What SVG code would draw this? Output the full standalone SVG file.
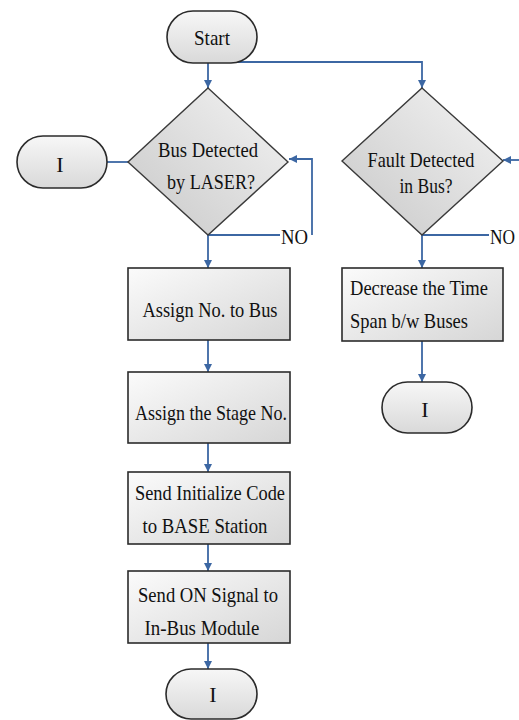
<svg xmlns="http://www.w3.org/2000/svg" width="519" height="720" viewBox="0 0 519 720">
  <defs>
    <linearGradient id="gBox" x1="0" y1="0" x2="1" y2="1">
      <stop offset="0" stop-color="#fbfbfb"/>
      <stop offset="1" stop-color="#d6d6d6"/>
    </linearGradient>
    <linearGradient id="gTerm" x1="0" y1="0" x2="0" y2="1">
      <stop offset="0" stop-color="#f7f7f7"/>
      <stop offset="1" stop-color="#d9d9d9"/>
    </linearGradient>
    <linearGradient id="gDia" x1="1" y1="0" x2="0" y2="1">
      <stop offset="0" stop-color="#f4f4f4"/>
      <stop offset="1" stop-color="#c8c8c8"/>
    </linearGradient>
    <marker id="arrow" viewBox="0 0 10 10" refX="10" refY="5" markerWidth="8" markerHeight="9" markerUnits="userSpaceOnUse" orient="auto">
      <path d="M0,0 L10,5 L0,10 z" fill="#3c67a3"/>
    </marker>
  </defs>
  <style>
    .box { fill: url(#gBox); stroke: #2b2b2b; stroke-width: 1.6; }
    .term { fill: url(#gTerm); stroke: #2b2b2b; stroke-width: 1.6; }
    .dia { fill: url(#gDia); stroke: #3a3a3a; stroke-width: 1.4; }
    .lbl { font-family: "Liberation Serif", "Times New Roman", serif; font-size: 22px; fill: #111; }
    .c { text-anchor: middle; }
    .conn path { fill: none; stroke: #3c67a3; stroke-width: 1.8; }
    .arr { marker-end: url(#arrow); }
  </style>

  <!-- connectors -->
  <g id="connectors" class="conn">
    <path class="arr" d="M208,63 V88"/>
    <path class="arr" d="M208,62 H422 V88"/>
    <path d="M107,162 H128"/>
    <path d="M208,235 H280"/>
    <path class="arr" d="M312,235 V159 H289"/>
    <path class="arr" d="M208,235 V268"/>
    <path class="arr" d="M208,340 V372"/>
    <path class="arr" d="M208,443 V472"/>
    <path class="arr" d="M208,544 V571"/>
    <path class="arr" d="M208,643 V669"/>
    <path d="M422,235 H489"/>
    <path class="arr" d="M519,160 H503"/>
    <path class="arr" d="M422,235 V268"/>
    <path class="arr" d="M422,341 V382"/>
  </g>

  <!-- edge labels -->
  <text class="lbl" x="281" y="244" textLength="27" lengthAdjust="spacingAndGlyphs">NO</text>
  <text class="lbl" x="490" y="244" textLength="25" lengthAdjust="spacingAndGlyphs">NO</text>

  <g id="start">
    <rect class="term" x="167" y="11" width="90" height="52" rx="26"/>
    <text class="lbl c" x="212" y="45" textLength="36" lengthAdjust="spacingAndGlyphs">Start</text>
  </g>

  <g id="busDetected">
    <polygon class="dia" points="208,88 288,162 208,235 128,162"/>
    <text class="lbl c" x="208" y="157" textLength="100" lengthAdjust="spacingAndGlyphs">Bus Detected</text>
    <text class="lbl c" x="211" y="189" textLength="88" lengthAdjust="spacingAndGlyphs">by LASER?</text>
  </g>

  <g id="connectorLeft">
    <rect class="term" x="17" y="136" width="90" height="52" rx="26"/>
    <text class="lbl c" x="60" y="172">I</text>
  </g>

  <g id="faultDetected">
    <polygon class="dia" points="422,88 503,161 422,235 342,161"/>
    <text class="lbl c" x="421" y="167" textLength="107" lengthAdjust="spacingAndGlyphs">Fault Detected</text>
    <text class="lbl c" x="426" y="193" textLength="53" lengthAdjust="spacingAndGlyphs">in Bus?</text>
  </g>

  <g id="assignNo">
    <rect class="box" x="128" y="268" width="162" height="72"/>
    <text class="lbl c" x="210" y="317" textLength="135" lengthAdjust="spacingAndGlyphs">Assign No. to Bus</text>
  </g>

  <g id="assignStage">
    <rect class="box" x="128" y="372" width="162" height="71"/>
    <text class="lbl c" x="211" y="420" textLength="152" lengthAdjust="spacingAndGlyphs">Assign the Stage No.</text>
  </g>

  <g id="sendInit">
    <rect class="box" x="128" y="472" width="162" height="72"/>
    <text class="lbl c" x="210" y="500" textLength="150" lengthAdjust="spacingAndGlyphs">Send Initialize Code</text>
    <text class="lbl c" x="205" y="533" textLength="125" lengthAdjust="spacingAndGlyphs">to BASE Station</text>
  </g>

  <g id="sendOn">
    <rect class="box" x="128" y="571" width="162" height="72"/>
    <text class="lbl c" x="208" y="602" textLength="140" lengthAdjust="spacingAndGlyphs">Send ON Signal to</text>
    <text class="lbl c" x="202" y="635" textLength="115" lengthAdjust="spacingAndGlyphs">In-Bus Module</text>
  </g>

  <g id="connectorBottom">
    <rect class="term" x="166" y="669" width="91" height="50" rx="25"/>
    <text class="lbl c" x="213" y="702">I</text>
  </g>

  <g id="decreaseSpan">
    <rect class="box" x="342" y="268" width="161" height="73"/>
    <text class="lbl" x="350" y="295" textLength="138" lengthAdjust="spacingAndGlyphs">Decrease the Time</text>
    <text class="lbl" x="350" y="328" textLength="118" lengthAdjust="spacingAndGlyphs">Span b/w Buses</text>
  </g>

  <g id="connectorRight">
    <rect class="term" x="382" y="382" width="90" height="51" rx="25.5"/>
    <text class="lbl c" x="425" y="417">I</text>
  </g>
</svg>
